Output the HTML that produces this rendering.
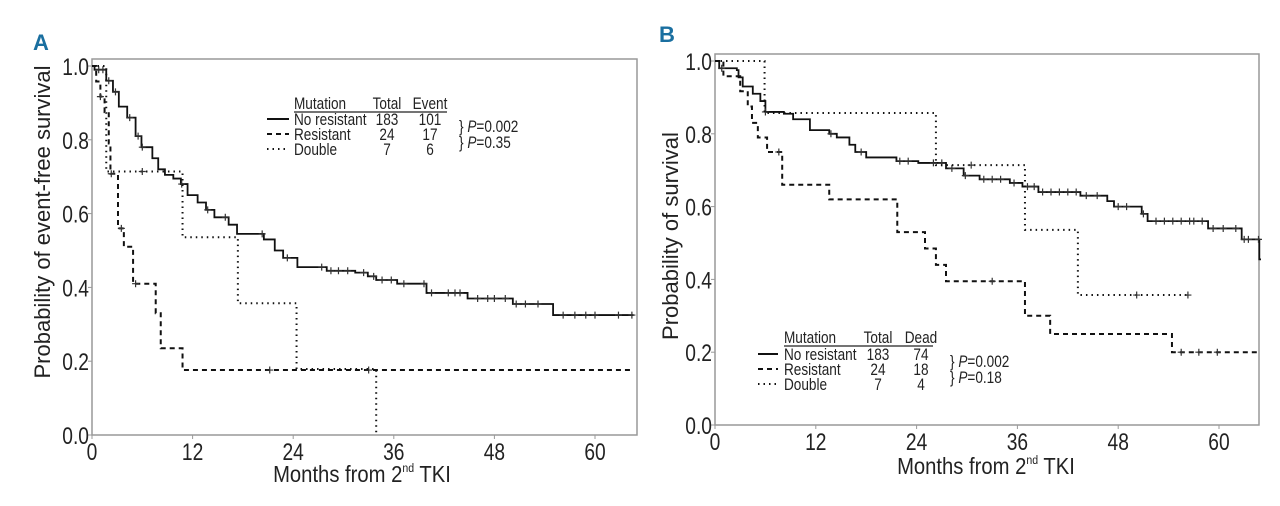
<!DOCTYPE html>
<html><head><meta charset="utf-8">
<style>
html,body{margin:0;padding:0;background:#fff;}
svg{display:block;}
text{font-family:"Liberation Sans",sans-serif;fill:#222;}
</style></head>
<body>
<svg id="chart" width="1280" height="506" viewBox="0 0 1280 506" xmlns="http://www.w3.org/2000/svg">
<g id="panelA"></g>
<g id="panelB"></g>
</svg>
<script>
// ---- Data: panel A (event-free survival) ----
const xTicks = [0, 12, 24, 36, 48, 60];
const yTicks = [0.0, 0.2, 0.4, 0.6, 0.8, 1.0];
const yTickLabels = ["0.0", "0.2", "0.4", "0.6", "0.8", "1.0"];

const aNoResTimes = [0, 0.3, 1.7, 2.5, 3.2, 4.2, 5.2, 5.9, 7.2, 7.9, 8.7, 9.7, 10.6, 11.4, 12.6, 13.6, 14.6, 16.3, 17.3, 20.5, 21.8, 22.8, 24.5, 28, 31.4, 32.9, 33.9, 36.4, 39.9, 44.8, 50.2, 55, 64.6];
const aNoResSurv  = [1.0, 0.99, 0.96, 0.93, 0.89, 0.86, 0.81, 0.78, 0.75, 0.72, 0.705, 0.695, 0.68, 0.65, 0.63, 0.61, 0.59, 0.57, 0.545, 0.53, 0.50, 0.48, 0.455, 0.445, 0.44, 0.43, 0.42, 0.41, 0.385, 0.37, 0.355, 0.325, 0.325];
const aNoResCensor = [0.8, 1.3, 2.0, 2.8, 4.5, 5.5, 6.0, 10.7, 13.8, 15.9, 20.3, 23.3, 27.4, 28.5, 29.4, 30.5, 32.4, 33.6, 34.6, 35.7, 37.2, 39.6, 40.5, 42.5, 43.3, 43.9, 46.0, 47.2, 48.0, 49.3, 50.6, 51.7, 53.2, 56.2, 57.6, 58.9, 60.0, 62.8, 64.4];
const aResTimes = [0, 0.5, 1.0, 1.5, 2.0, 2.2, 3.1, 3.8, 4.9, 7.6, 8.2, 10.8, 64.6];
const aResSurv  = [1.0, 0.958, 0.917, 0.875, 0.79, 0.708, 0.56, 0.51, 0.41, 0.33, 0.235, 0.176, 0.176];
const aResCensor = [1.0, 2.3, 3.5, 5.2, 21.2, 33.0];
const aDblTimes = [0, 1.7, 10.8, 17.4, 24.4, 33.9, 33.9];
const aDblSurv  = [1.0, 0.714, 0.536, 0.357, 0.179, 0.0, 0.0];
const aDblCensor = [6.0];

// ---- Data: panel B (overall survival) ----
const bNoResTimes = [0, 0.5, 2.6, 2.8, 3.3, 4.5, 5.4, 6.0, 8.2, 9.3, 11.3, 13.6, 14.5, 16.0, 16.7, 18.0, 21.6, 24.2, 27.5, 29.6, 31.5, 35.1, 36.6, 38.5, 43.5, 46.7, 47.5, 50.8, 51.5, 58.7, 62.7, 64.8, 65.0];
const bNoResSurv  = [1.0, 0.98, 0.975, 0.955, 0.93, 0.91, 0.89, 0.86, 0.855, 0.84, 0.81, 0.80, 0.79, 0.77, 0.75, 0.735, 0.725, 0.72, 0.705, 0.685, 0.675, 0.665, 0.655, 0.64, 0.63, 0.615, 0.60, 0.58, 0.56, 0.54, 0.51, 0.455, 0.455];
const bNoResCensor = [0.8, 6.0, 13.8, 17.4, 22.0, 23.0, 26.0, 27.0, 28.2, 29.8, 32.0, 33.0, 34.0, 35.6, 37.2, 38.0, 39.0, 40.0, 41.0, 42.0, 43.0, 44.2, 45.5, 48.0, 49.0, 51.0, 52.5, 53.5, 54.5, 55.5, 56.5, 57.0, 58.0, 59.3, 60.5, 62.0, 63.0, 63.5, 64.7];
const bResTimes = [0, 1.0, 3.0, 3.9, 4.4, 5.1, 6.2, 8.0, 13.6, 21.7, 25.0, 26.3, 27.5, 36.9, 39.9, 54.4, 64.6];
const bResSurv  = [1.0, 0.958, 0.917, 0.875, 0.83, 0.79, 0.75, 0.66, 0.62, 0.53, 0.485, 0.44, 0.395, 0.30, 0.25, 0.20, 0.20];
const bResCensor = [7.6, 33.0, 55.5, 57.6, 59.8];
const bDblTimes = [0, 5.9, 26.3, 36.9, 43.2, 56.3];
const bDblSurv  = [1.0, 0.857, 0.714, 0.536, 0.357, 0.357];
const bDblCensor = [30.5, 50.2, 56.3];

const NS = "http://www.w3.org/2000/svg";
function mk(parent, tag, attrs, text) {
  const e = document.createElementNS(NS, tag);
  for (const k in attrs) e.setAttribute(k, attrs[k]);
  if (text !== undefined) e.textContent = text;
  parent.appendChild(e);
  return e;
}
// condensed text: scale horizontally around its x anchor
function ctext(parent, x, y, size, sc, anchor, str) {
  const t = mk(parent, "text", {x: x, y: y, "font-size": size, "text-anchor": anchor,
    transform: `matrix(${sc},0,0,1,${x * (1 - sc)},0)`}, str);
  return t;
}

function drawPanel(g, cfg) {
  const sx = t => cfg.x0 + (cfg.x60 - cfg.x0) * t / 60;
  const sy = v => cfg.y0 + (cfg.y1 - cfg.y0) * v;
  const fr = mk(g, "rect", {x: cfg.x0, y: cfg.top, width: cfg.right - cfg.x0, height: cfg.y0 - cfg.top, fill: "none", stroke: "#999", "stroke-width": 1.5});
  
  
  xTicks.forEach(t => {
    const tk = mk(g, "line", {x1: sx(t), x2: sx(t), y1: cfg.y0, y2: cfg.y0 + 4, stroke: "#999", "stroke-width": 1});
    
    
    const lb = ctext(g, sx(t), cfg.y0 + 25, 24, 0.8, "middle", String(t));
    
    
  });
  yTicks.forEach((v, i) => {
    const tk = mk(g, "line", {x1: cfg.x0 - 4, x2: cfg.x0, y1: sy(v), y2: sy(v), stroke: "#999", "stroke-width": 1});
    
    
    const lb = ctext(g, cfg.x0 - 3, sy(v) + 9, 24, 0.8, "end", yTickLabels[i]);
    
    
  });
  const yt = mk(g, "text", {x: 0, y: 0, "text-anchor": "middle", "font-size": 22, transform: `translate(${cfg.ytx},${cfg.yty}) rotate(-90)`}, cfg.ytitle);
  
  
  const xt = ctext(g, cfg.xtx, cfg.xty, 23, 0.88, "middle", "Months from 2");
  mk(xt, "tspan", {"font-size": 12, dy: -10}, "nd");
  mk(xt, "tspan", {dy: 10}, " TKI");
  
  
  const pl = mk(g, "text", {x: cfg.lx, y: cfg.ly, "font-size": 22, "font-weight": "bold", style: "fill:#1a6fa0"}, cfg.label);
  
  

  const dashes = {solid: "", dash: "5,4", dot: "1.5,4"};
  cfg.series.forEach(s => {
    let d = `M${sx(s.t[0])},${sy(s.s[0])}`;
    for (let i = 1; i < s.t.length; i++) {
      d += ` H${sx(s.t[i])} V${sy(s.s[i])}`;
    }
    const p = mk(g, "path", {d: d, fill: "none", stroke: "#111", "stroke-width": s.style === "solid" ? 1.8 : 2, "stroke-dasharray": dashes[s.style]});
    
    
    s.c.forEach(ct => {
      let v = s.s[0];
      for (let i = 0; i < s.t.length; i++) if (s.t[i] <= ct) v = s.s[i];
      const m = mk(g, "path", {d: `M${sx(ct)-3.5},${sy(v)} h7 M${sx(ct)},${sy(v)-3.5} v7`, stroke: "#333", "stroke-width": 1.2});
      
      
    });
  });

  const L = cfg.leg;
  const lg = mk(g, "g", {});
  
  
  const fs = 17, sc = 0.8;
  ctext(lg, L.tx, L.hy, fs, sc, "start", "Mutation");
  ctext(lg, L.c1, L.hy, fs, sc, "middle", "Total");
  ctext(lg, L.c2, L.hy, fs, sc, "middle", L.head2);
  mk(lg, "line", {x1: L.tx, x2: L.ux, y1: L.hy + 3, y2: L.hy + 3, stroke: "#222", "stroke-width": 1.2});
  const names = ["No resistant", "Resistant", "Double"];
  const styles = ["solid", "dash", "dot"];
  names.forEach((n, i) => {
    const y = L.ry[i];
    const e = mk(lg, "line", {x1: L.sx1, x2: L.sx2, y1: y - 6, y2: y - 6, stroke: "#111", "stroke-width": 2, "stroke-dasharray": dashes[styles[i]]});
    
    
    ctext(lg, L.tx, y, fs, sc, "start", n);
    ctext(lg, L.c1, y, fs, sc, "middle", L.tot[i]);
    ctext(lg, L.c2, y, fs, sc, "middle", L.ev[i]);
  });
  L.p.forEach((pv, i) => {
    const t = ctext(lg, L.px, L.py[i], fs, sc, "start", "} ");
    mk(t, "tspan", {"font-style": "italic"}, "P");
    mk(t, "tspan", {}, "=" + pv);
  });
}

drawPanel(document.getElementById("panelA"), {
  x0: 92, x60: 595, right: 637, top: 59, y0: 435, y1: 66,
  ytitle: "Probability of event-free survival", ytx: 50, yty: 222,
  xtx: 362, xty: 482, label: "A", lx: 33, ly: 50,
  series: [
    {name: "curve-no-resistant", t: aNoResTimes, s: aNoResSurv, c: aNoResCensor, style: "solid"},
    {name: "curve-resistant", t: aResTimes, s: aResSurv, c: aResCensor, style: "dash"},
    {name: "curve-double", t: aDblTimes, s: aDblSurv, c: aDblCensor, style: "dot"}
  ],
  leg: {tx: 294, ux: 447, hy: 109, ry: [125, 140, 155], sx1: 267, sx2: 289, c1: 387, c2: 430,
        head2: "Event", tot: ["183", "24", "7"], ev: ["101", "17", "6"],
        px: 459, py: [132, 148], p: ["0.002", "0.35"]}
});
drawPanel(document.getElementById("panelB"), {
  x0: 715, x60: 1219, right: 1259, top: 54, y0: 425, y1: 61,
  ytitle: "Probability of survival", ytx: 678, yty: 236,
  xtx: 986, xty: 474, label: "B", lx: 659, ly: 42,
  series: [
    {name: "curve-no-resistant", t: bNoResTimes, s: bNoResSurv, c: bNoResCensor, style: "solid"},
    {name: "curve-resistant", t: bResTimes, s: bResSurv, c: bResCensor, style: "dash"},
    {name: "curve-double", t: bDblTimes, s: bDblSurv, c: bDblCensor, style: "dot"}
  ],
  leg: {tx: 784, ux: 933, hy: 343, ry: [360, 375, 390], sx1: 758, sx2: 778, c1: 878, c2: 921,
        head2: "Dead", tot: ["183", "24", "7"], ev: ["74", "18", "4"],
        px: 950, py: [367, 383], p: ["0.002", "0.18"]}
});
</script>
</body></html>
